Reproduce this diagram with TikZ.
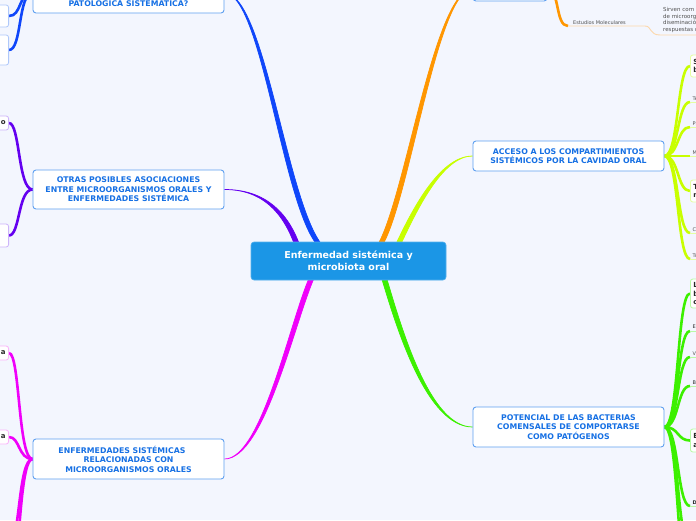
\documentclass[tikz,border=0pt]{standalone}
\usepackage{fontspec}
\setmainfont{DejaVu Sans}
\pgfdeclarelayer{bgl}
\pgfsetlayers{bgl,main}
\definecolor{bg}{RGB}{243,246,254}
\definecolor{cfill}{RGB}{27,150,230}
\definecolor{tborder}{RGB}{95,160,240}
\definecolor{ttext}{RGB}{22,112,228}
\definecolor{cblue}{RGB}{15,70,250}
\definecolor{cpurple}{RGB}{100,0,240}
\definecolor{cmag}{RGB}{240,0,250}
\definecolor{corange}{RGB}{255,150,0}
\definecolor{cyel}{RGB}{200,255,0}
\definecolor{cgreen}{RGB}{60,240,0}
\definecolor{pblue}{RGB}{175,200,250}
\definecolor{ppurple}{RGB}{205,180,250}
\definecolor{pmag}{RGB}{250,180,250}
\definecolor{porange}{RGB}{252,215,170}
\definecolor{pyel}{RGB}{228,255,160}
\definecolor{pgreen}{RGB}{185,250,165}
\definecolor{txtgray}{RGB}{80,80,80}
\definecolor{txtdark}{RGB}{40,40,40}
\begin{document}
\begin{tikzpicture}[x=1pt,y=-1pt,
  mainnode/.style={draw=cfill!75!white, fill=cfill, rounded corners=3pt, line width=0.6pt, text=white, font=\bfseries\fontsize{9.5}{12.5}\selectfont, align=center, minimum width=195pt, minimum height=38pt, inner sep=0pt},
  topicbox/.style={draw=tborder, fill=white, rounded corners=3pt, line width=0.9pt, text=ttext, font=\bfseries\fontsize{7.8}{9.5}\selectfont, align=center, minimum width=191pt, inner sep=0pt},
  lbox/.style={fill=white, rounded corners=2.5pt, line width=0.8pt, anchor=east, text width=26pt, align=right, inner xsep=3pt, inner ysep=0pt, text=txtdark, font=\bfseries\fontsize{7}{8.5}\selectfont},
  rbox/.style={fill=white, rounded corners=2.5pt, line width=0.8pt, anchor=west, text width=26pt, align=left, inner xsep=3pt, inner ysep=0pt, text=txtdark, font=\bfseries\fontsize{7}{8.5}\selectfont},
  smalltxt/.style={font=\fontsize{5}{6.5}\selectfont, text=txtgray, inner sep=1.5pt, anchor=south west},
  subline/.style={line width=2.6pt},
  underline/.style={line width=0.9pt},
  taper/.style={line width=0.7pt}
]
\useasboundingbox (0,0) rectangle (696,520);
\clip (0,0) rectangle (696,520);

% central node
\node[mainnode] (c) at (348.5,261) {Enfermedad sistémica y\\microbiota oral};

% topic nodes
\node[topicbox, minimum height=40pt] (t1) at (128.5,-7) {};
\node[text=ttext, font=\bfseries\fontsize{7.8}{9.5}\selectfont, anchor=base, inner sep=0pt] (t1txt) at (128.5,6.2) {PATOLÓGICA SISTEMÁTICA?};
\node[topicbox, minimum height=39pt] (t2) at (128.5,189.5) {OTRAS POSIBLES ASOCIACIONES\\ENTRE MICROORGANISMOS ORALES Y\\ENFERMEDADES SISTÉMICA};
\node[topicbox, minimum height=40pt] (t3) at (128.5,459) {ENFERMEDADES SISTÉMICAS\hspace*{13pt}\\RELACIONADAS CON\\MICROORGANISMOS ORALES};
\node[topicbox, minimum width=74pt, minimum height=24pt] (t4) at (510,-11) {};
\node[topicbox, minimum height=30pt] (t5) at (568.5,156) {ACCESO A LOS COMPARTIMIENTOS\\SISTÉMICOS POR LA CAVIDAD ORAL};
\node[topicbox, minimum height=40pt] (t6) at (568.5,427) {POTENCIAL DE LAS BACTERIAS\\COMENSALES DE COMPORTARSE\\COMO PATÓGENOS};

% left children
\node[lbox, draw=pblue, minimum height=22pt] (b1) at (9,16) {};
\node[lbox, draw=pblue, minimum height=30pt] (b2) at (9,50) {};
\node[lbox, draw=ppurple, minimum height=14pt] (p1) at (9,123) {o};
\node[lbox, draw=ppurple, minimum height=23pt] (p2) at (9,235.5) {};
\node[lbox, draw=pmag, minimum height=14pt] (m1) at (9,353) {a};
\node[lbox, draw=pmag, minimum height=14pt] (m2) at (9,437) {a};
\node[lbox, draw=pmag, minimum height=14pt] (m3) at (9,545) {};
\node[lbox, draw=pmag, minimum height=14pt] (m4) at (9,590) {};

% right children (boxes)
\node[rbox, draw=pyel, minimum height=22pt] (y1) at (690,66) {S\\b};
\node[rbox, draw=pyel, minimum height=22pt] (y2) at (690,191) {T\\m};
\node[rbox, draw=pgreen, minimum height=29pt] (g1) at (690,293.5) {L\\b\\c};
\node[rbox, draw=pgreen, minimum height=23pt] (g2) at (690,440.5) {E\\a};
\coordinate (g5) at (690,545);
\coordinate (g6) at (690,590);

% right children (small text)
\coordinate (ya) at (690,102);
\coordinate (yb) at (690,127);
\coordinate (yc) at (690,156);
\coordinate (yd) at (690,233);
\coordinate (ye) at (690,259);
\coordinate (ga) at (690,331);
\coordinate (gb) at (690,357);
\coordinate (gc) at (690,386);
\coordinate (gd) at (690,506);
\node[smalltxt] (yat) at (691,102) {Te};
\node[smalltxt] (ybt) at (691,127) {Pl};
\node[smalltxt] (yct) at (691,156) {M};
\node[smalltxt] (ydt) at (691,233) {C};
\node[smalltxt] (yet) at (691,259) {Tr};
\node[smalltxt, text=txtdark] (gat) at (691,331) {E,};
\node[smalltxt] (gbt) at (691,357) {V};
\node[smalltxt, text=txtdark] (gct) at (691,386) {B};
\node[smalltxt, text=txtdark, font=\bfseries\fontsize{5}{6.5}\selectfont] (gdt) at (691,506) {D};

% orange child
\coordinate (oe) at (568,26);
\coordinate (oe2) at (660,35);
\node[smalltxt, inner sep=2pt] (oet) at (571,26.5) {Estudios Moleculares};
\node[anchor=south west, font=\fontsize{5.5}{6.7}\selectfont, align=left, inner sep=2pt, text=txtgray] (sirven) at (661,35) {Sirven com\\de microorg\\diseminació\\respuestas c};

\begin{pgfonlayer}{bgl}
\begin{scope}
\clip (0,0) rectangle (696,520);
\fill[bg] (0,0) rectangle (696,520);
% tapered main connectors
\coordinate (cb1) at (318,246); \coordinate (cb2) at (323,246);
\filldraw[cblue, taper] (cb1) .. controls (282,205) and (262,-7) .. (t1.east) .. controls (265,-7) and (287,205) .. (cb2) -- cycle;
\coordinate (cp1) at (295,246); \coordinate (cp2) at (300,246);
\filldraw[cpurple, taper] (cp1) .. controls (283,212) and (262,189.5) .. (t2.east) .. controls (265,189.5) and (288,212) .. (cp2) -- cycle;
\coordinate (cm1) at (310,276); \coordinate (cm2) at (315,276);
\filldraw[cmag, taper] (cm1) .. controls (290,320) and (262,459) .. (t3.east) .. controls (265,459) and (295,320) .. (cm2) -- cycle;
\coordinate (co1) at (377,246); \coordinate (co2) at (382,246);
\filldraw[corange, taper] (co1) .. controls (405,200) and (434,-11) .. (t4.west) .. controls (437,-11) and (410,200) .. (co2) -- cycle;
\coordinate (cy1) at (395,246); \coordinate (cy2) at (400,246);
\filldraw[cyel, taper] (cy1) .. controls (411,212) and (439,156) .. (t5.west) .. controls (442,156) and (416,212) .. (cy2) -- cycle;
\coordinate (cg1) at (381,276); \coordinate (cg2) at (386,276);
\filldraw[cgreen, taper] (cg1) .. controls (397,330) and (427,427) .. (t6.west) .. controls (430,427) and (402,330) .. (cg2) -- cycle;

% left sub connectors
\draw[subline, cblue] (t1.west) .. controls (18,-7) and (22,16) .. (b1.east);
\draw[subline, cblue] (t1.west) .. controls (18,-7) and (22,50) .. (b2.east);
\draw[subline, cpurple] (t2.west) .. controls (18,189.5) and (20,123) .. (p1.east);
\draw[subline, cpurple] (t2.west) .. controls (18,189.5) and (20,235.5) .. (p2.east);
\draw[subline, cmag] (t3.west) .. controls (18,459) and (20,353) .. (m1.east);
\draw[subline, cmag] (t3.west) .. controls (18,459) and (20,437) .. (m2.east);
\draw[subline, cmag] (t3.west) .. controls (18,459) and (20,545) .. (m3.east);
\draw[subline, cmag] (t3.west) .. controls (18,459) and (20,590) .. (m4.east);

% right sub connectors (yellow)
\draw[subline, cyel] (t5.east) .. controls (679,156) and (677,66) .. (y1.west);
\draw[subline, cyel] (t5.east) .. controls (679,156) and (677,102) .. (ya);
\draw[subline, cyel] (t5.east) .. controls (679,156) and (677,127) .. (yb);
\draw[subline, cyel] (t5.east) -- (yc);
\draw[subline, cyel] (t5.east) .. controls (679,156) and (677,191) .. (y2.west);
\draw[subline, cyel] (t5.east) .. controls (679,156) and (677,233) .. (yd);
\draw[subline, cyel] (t5.east) .. controls (679,156) and (677,259) .. (ye);
\foreach \p in {ya,yb,yc,yd,ye} \draw[underline, pyel] (\p) -- ++(12,0);

% right sub connectors (green)
\draw[subline, cgreen] (t6.east) .. controls (679,427) and (677,293.5) .. (g1.west);
\draw[subline, cgreen] (t6.east) .. controls (679,427) and (677,331) .. (ga);
\draw[subline, cgreen] (t6.east) .. controls (679,427) and (677,357) .. (gb);
\draw[subline, cgreen] (t6.east) .. controls (679,427) and (677,386) .. (gc);
\draw[subline, cgreen] (t6.east) .. controls (679,427) and (677,440.5) .. (g2.west);
\draw[subline, cgreen] (t6.east) .. controls (679,427) and (677,506) .. (gd);
\draw[subline, cgreen] (t6.east) .. controls (679,427) and (677,545) .. (g5);
\draw[subline, cgreen] (t6.east) .. controls (679,427) and (677,590) .. (g6);
\foreach \p in {ga,gb,gc,gd} \draw[underline, pgreen] (\p) -- ++(12,0);

% orange sub connector
\draw[subline, corange] (t4.east) .. controls (560,-11) and (555,26) .. (oe);
\draw[underline, porange] (oe) -- (645,26) .. controls (652,26) and (649,35) .. (oe2) -- ++(45,0);
\end{scope}
\end{pgfonlayer}
\end{tikzpicture}
\end{document}
